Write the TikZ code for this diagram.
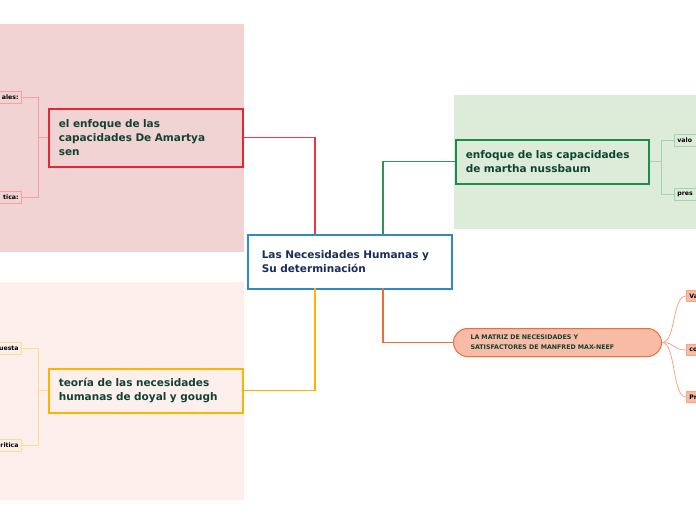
\documentclass[tikz,border=0pt]{standalone}
\usepackage{fontspec}
\setmainfont{DejaVu Sans}
\definecolor{pinkbg}{HTML}{F2D3D3}
\definecolor{peachbg}{HTML}{FCEFEC}
\definecolor{greenbg}{HTML}{DDEBD9}
\definecolor{redc}{HTML}{E8262F}
\definecolor{redline}{HTML}{EB3A44}
\definecolor{redleaf}{HTML}{F4A0A6}
\definecolor{yelc}{HTML}{FFB300}
\definecolor{yelleaf}{HTML}{FFDC8F}
\definecolor{grnc}{HTML}{1E8A4C}
\definecolor{grnline}{HTML}{2E9457}
\definecolor{grnleaf}{HTML}{A3D4AC}
\definecolor{orac}{HTML}{F26B3A}
\definecolor{oraleaf}{HTML}{F8A487}
\definecolor{orafill}{HTML}{F8BBA6}
\definecolor{inkc}{HTML}{114232}
\definecolor{navyc}{HTML}{1B2C5C}
\definecolor{bluec}{HTML}{2E8BC9}
\tikzset{
  topic/.style={draw,line width=1.6pt,anchor=north west,align=left,text=inkc,
    font=\fontsize{10.5}{14}\selectfont\bfseries,inner xsep=10pt},
  leaf/.style={draw,line width=0.8pt,font=\fontsize{6.2}{7}\selectfont\bfseries,
    text=black,minimum height=12pt,inner xsep=3pt,inner ysep=0pt},
  branch/.style={line width=1.3pt}
}
\begin{document}
\begin{tikzpicture}[x=1pt,y=-1pt]
  \useasboundingbox (0,0) rectangle (696,520);
  \clip (0,0) rectangle (696,520);
  % backgrounds
  \fill[pinkbg] (0,24) rectangle (244,252);
  \fill[peachbg] (0,282) rectangle (244,500);
  \fill[greenbg] (454,95) rectangle (696,229);
  % main connectors
  \coordinate (up1) at (315,234);
  \coordinate (up2) at (383,234);
  \coordinate (dn1) at (315,288);
  \coordinate (dn2) at (383,288);
  % main topics
  \node[topic,draw=bluec,fill=white,text=navyc,minimum width=204pt,minimum height=54pt,
    inner xsep=14pt,text width=176pt] (ctr) at (247,234) {Las Necesidades Humanas y\\Su determinación};
  \node[topic,draw=redc,fill=pinkbg,minimum width=194pt,minimum height=58pt,text width=174pt]
    (amartya) at (48,108) {el enfoque de las\\capacidades De Amartya\\sen};
  \node[topic,draw=yelc,fill=peachbg,minimum width=194pt,minimum height=44pt,text width=174pt]
    (doyal) at (48,368) {teoría de las necesidades\\humanas de doyal y gough};
  \node[topic,draw=grnc,fill=greenbg,minimum width=193pt,minimum height=44pt,text width=173pt]
    (nuss) at (455,139) {enfoque de las capacidades\\de martha nussbaum};
  \node[topic,draw=orac,fill=orafill,line width=1pt,rounded corners=14pt,
    minimum width=208pt,minimum height=28pt,inner xsep=17pt,text width=174pt,
    font=\fontsize{6.3}{10}\selectfont\bfseries]
    (matriz) at (453,328) {LA MATRIZ DE NECESIDADES Y\\SATISFACTORES DE MANFRED MAX-NEEF};
  \draw[branch,draw=redline] (up1) |- (amartya.east);
  \draw[branch,draw=yelc] (dn1) |- (doyal.east);
  \draw[branch,draw=grnline] (up2) |- (nuss.west);
  \draw[branch,draw=orac] (dn2) |- (matriz.west);
  % subtopics
  \node[leaf,draw=redleaf,fill=pinkbg,anchor=east,text width=34pt,align=right] (am1) at (22,97.5) {ales:};
  \node[leaf,draw=redleaf,fill=pinkbg,anchor=east,text width=34pt,align=right] (am2) at (22,197) {tica:};
  \node[leaf,draw=yelleaf,fill=peachbg,anchor=east,text width=34pt,align=right] (dg1) at (22,348.5) {uesta};
  \node[leaf,draw=yelleaf,fill=peachbg,anchor=east,text width=34pt,align=right] (dg2) at (22,445) {ritica};
  \node[leaf,draw=grnleaf,fill=greenbg,anchor=west,text width=40pt,align=left] (ns1) at (674,140) {valo};
  \node[leaf,draw=grnleaf,fill=greenbg,anchor=west,text width=40pt,align=left] (ns2) at (674,194) {pres};
  \foreach \n/\y/\t in {mx1/296/Va,mx2/350/co,mx3/397/Pr}
    \node[leaf,draw=oraleaf,fill=orafill,anchor=west,text width=40pt,align=left,
      minimum height=11pt] (\n) at (686,\y) {\t};
  % subtopic connectors
  \foreach \n in {am1,am2} \draw[redleaf,line width=0.8pt] (amartya.west) -- +(-10,0) |- (\n.east);
  \foreach \n in {dg1,dg2} \draw[yelleaf,line width=0.8pt] (doyal.west) -- +(-10,0) |- (\n.east);
  \foreach \n in {ns1,ns2} \draw[grnleaf,line width=0.8pt] (nuss.east) -- +(12,0) |- (\n.west);
  \foreach \n in {mx1,mx2,mx3}
    \draw[oraleaf,line width=0.8pt] (matriz.east) .. controls +(14,0) and +(-14,0) .. (\n.west);
\end{tikzpicture}
\end{document}
